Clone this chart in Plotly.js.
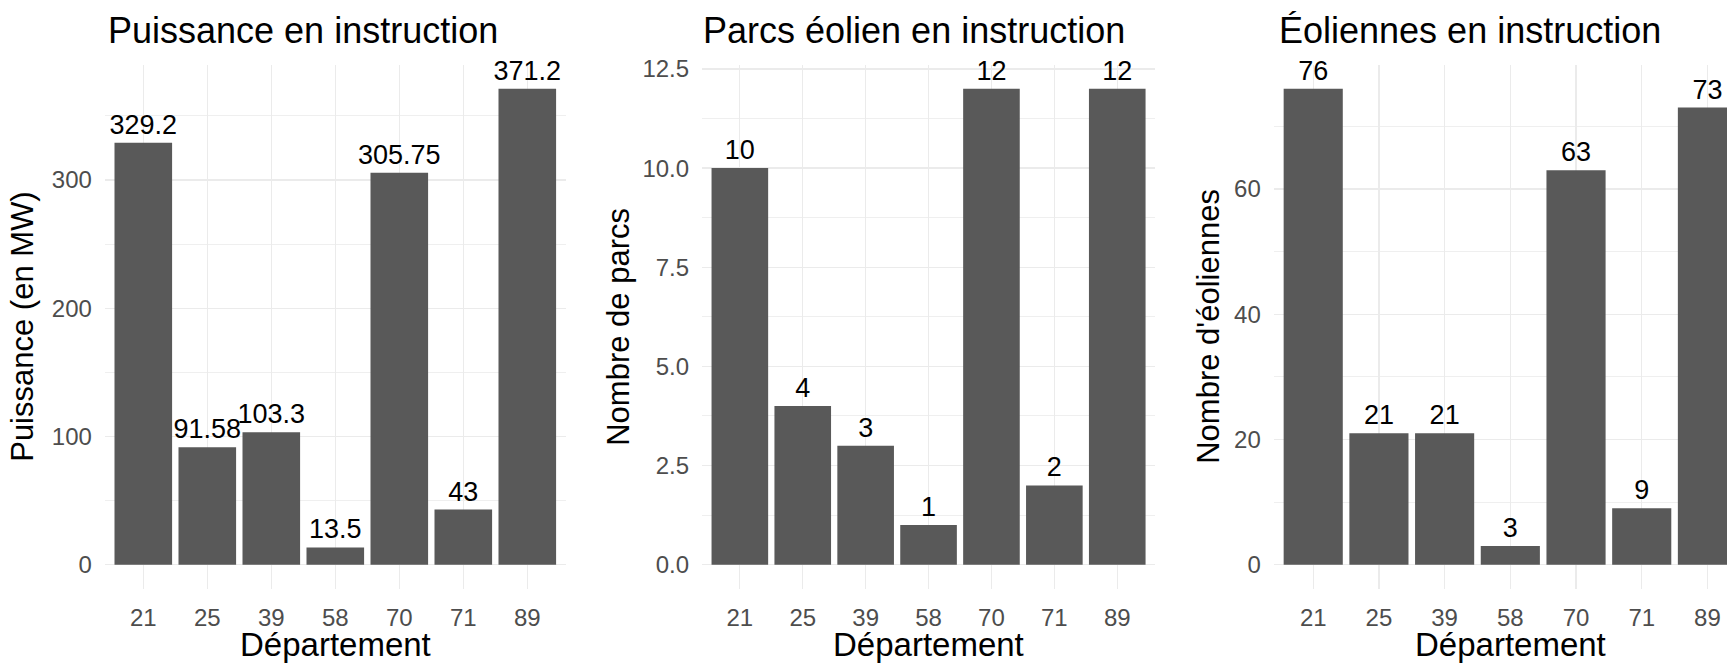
<!DOCTYPE html>
<html>
<head>
<meta charset="utf-8">
<script src="https://cdn.plot.ly/plotly-3.0.1.min.js"></script>
<style>html,body{margin:0;padding:0;background:#fff;}#chart{width:1727px;height:665px;}</style>
</head>
<body>
<div id="chart"></div>
<script>
// Data
var departements = ['21', '25', '39', '58', '70', '71', '89'];
var puissance = [329.2, 91.58, 103.3, 13.5, 305.75, 43, 371.2];
var parcs = [10, 4, 3, 1, 12, 2, 12];
var eoliennes = [76, 21, 21, 3, 63, 9, 73];

var titles = ['Puissance en instruction', 'Parcs éolien en instruction', 'Éoliennes en instruction'];
var yTitles = ['Puissance (en MW)', 'Nombre de parcs', "Nombre d'éoliennes"];
var xTitle = 'Département';

var FONT = '"Liberation Sans", Arial, Helvetica, sans-serif';
var BAR = '#595959';
var GRID = '#EBEBEB';
var TICK = '#4D4D4D';

function expand(vals) {
  var mx = Math.max.apply(null, vals);
  return [-0.05 * mx, mx * 1.05];
}

function barTrace(vals, xa, ya) {
  return {
    type: 'bar',
    x: departements,
    y: vals,
    xaxis: xa,
    yaxis: ya,
    marker: {color: BAR, line: {width: 0}},
    text: vals.map(function (v) { return String(v); }),
    textposition: 'outside',
    constraintext: 'none',
    cliponaxis: false,
    textfont: {family: FONT, size: 27, color: '#000000'},
    hoverinfo: 'x+y',
    showlegend: false
  };
}

var data = [
  barTrace(puissance, 'x', 'y'),
  barTrace(parcs, 'x2', 'y2'),
  barTrace(eoliennes, 'x3', 'y3')
];

var W = 1727, H = 665;
var yDom = [(H - 588.5) / H, (H - 65) / H];

function xAxis(domain, range) {
  return {
    domain: domain,
    type: 'category',
    range: range,
    showgrid: true,
    gridcolor: GRID,
    gridwidth: 1.3,
    zeroline: false,
    showline: false,
    ticks: '',
    ticklabelstandoff: 12,
    tickfont: {family: FONT, size: 24, color: TICK},
    fixedrange: true
  };
}

function yAxis(anchor, range, dtick, minorDtick, fmt) {
  return {
    anchor: anchor,
    domain: yDom,
    range: range,
    tick0: 0,
    dtick: dtick,
    tickformat: fmt,
    showgrid: true,
    gridcolor: GRID,
    gridwidth: 1.3,
    minor: {dtick: minorDtick, tick0: 0, showgrid: true, gridcolor: GRID, gridwidth: 0.8, ticks: ''},
    zeroline: false,
    showline: false,
    ticks: '',
    ticklabelstandoff: 12,
    tickfont: {family: FONT, size: 24, color: TICK},
    fixedrange: true
  };
}

var p1 = [104.9 / W, 565.7 / W];
var p2 = [702.1 / W, 1155 / W];
var p3 = [1273.8 / W, 1.0];

var layout = {
  width: W,
  height: H,
  margin: {l: 0, r: 0, t: 0, b: 0, pad: 0},
  paper_bgcolor: '#ffffff',
  plot_bgcolor: '#ffffff',
  bargap: 0.1,
  font: {family: FONT},
  xaxis: Object.assign(xAxis(p1, [-0.6, 6.6]), {anchor: 'y'}),
  xaxis2: Object.assign(xAxis(p2, [-0.6, 6.6]), {anchor: 'y2'}),
  xaxis3: Object.assign(xAxis(p3, [-0.6, 6.298]), {anchor: 'y3'}),
  yaxis: yAxis('x', expand(puissance), 100, 50, ''),
  yaxis2: yAxis('x2', expand(parcs), 2.5, 1.25, '.1f'),
  yaxis3: yAxis('x3', expand(eoliennes), 20, 10, ''),
  annotations: []
};

var titleX = [106, 701, 1277];
var yTitleX = [23, 619, 1209];
var panelCenters = [(p1[0] + p1[1]) / 2, (p2[0] + p2[1]) / 2, (1273.8 + 1747) / 2 / W];
for (var i = 0; i < 3; i++) {
  layout.annotations.push({
    text: titles[i], xref: 'paper', yref: 'paper',
    x: titleX[i] / W, y: (H - 31) / H, xanchor: 'left', yanchor: 'middle',
    showarrow: false, font: {family: FONT, size: 36, color: '#000000'}
  });
  layout.annotations.push({
    text: yTitles[i], xref: 'paper', yref: 'paper', textangle: -90,
    x: yTitleX[i] / W, y: (H - 326.8) / H, xanchor: 'center', yanchor: 'middle',
    showarrow: false, font: {family: FONT, size: 31, color: '#000000'}
  });
  layout.annotations.push({
    text: xTitle, xref: 'paper', yref: 'paper',
    x: panelCenters[i], y: 0, xanchor: 'center', yanchor: 'bottom',
    showarrow: false, font: {family: FONT, size: 33, color: '#000000'}
  });
}

Plotly.newPlot('chart', data, layout, {displayModeBar: false, staticPlot: true});
</script>
</body>
</html>
